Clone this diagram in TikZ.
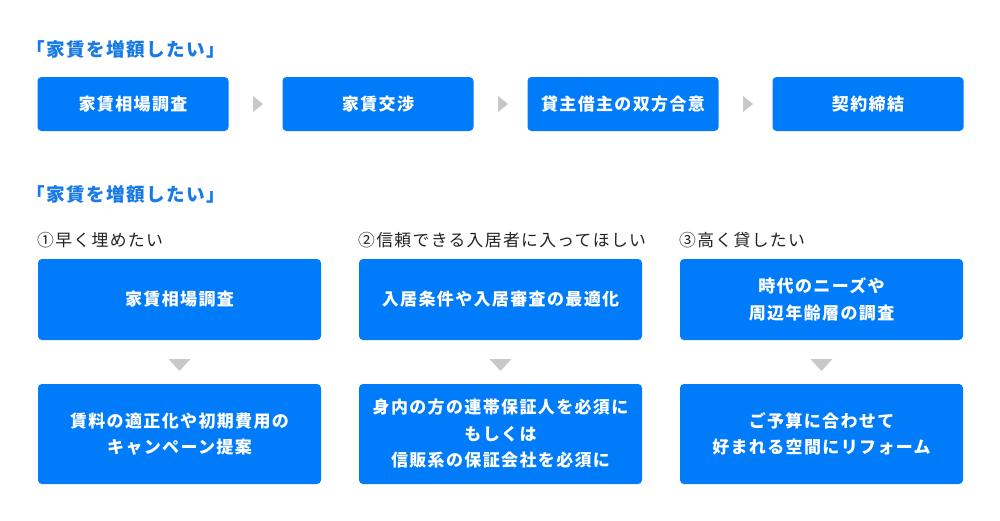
\documentclass[tikz,border=0pt]{standalone}
\usepackage{fontspec}
\newfontfamily\jpfont[LetterSpace=8]{Noto Sans CJK JP}
\definecolor{BoxBlue}{RGB}{0, 123, 250}
\definecolor{HeadBlue}{RGB}{24, 122, 232}
\definecolor{ArrowGray}{RGB}{200, 200, 200}
\definecolor{LabelBlack}{RGB}{34, 34, 34}
\usetikzlibrary{calc}

\begin{document}
\begin{tikzpicture}[
    x=1pt, y=-1pt,
    every node/.style={align=center, inner sep=0pt},
    stepbox/.style={fill=BoxBlue, rounded corners=4pt, text=white, font=\jpfont\bfseries\fontsize{17pt}{26.5pt}\selectfont, minimum height=54pt, minimum width=191pt},
    upbox/.style={stepbox, minimum width=283pt, minimum height=81pt},
    lowbox/.style={stepbox, minimum width=283pt, minimum height=100pt},
    heading/.style={anchor=west, text=HeadBlue, font=\jpfont\bfseries\fontsize{18.6pt}{20pt}\selectfont},
    goal/.style={anchor=west, text=LabelBlack, font=\jpfont\fontsize{16.8pt}{20pt}\selectfont},
    tri/.style={fill=ArrowGray}
]
\fill[white] (0,0) rectangle (1000,520);
\useasboundingbox (0,0) rectangle (1000,520);

% flow of the negotiation
\node[heading] (h1) at (26,49) {「家賃を増額したい」};
\node[stepbox] (s1) at (133,104) {家賃相場調査};
\node[stepbox] (s2) at (378,104) {家賃交渉};
\node[stepbox] (s3) at (623,104) {貸主借主の双方合意};
\node[stepbox] (s4) at (868,104) {契約締結};
\foreach \a/\b in {s1/s2, s2/s3, s3/s4}
  \fill[tri] ($(\a.east)!0.5!(\b.west)$) ++(-2.5,-8) -- ++(10,8) -- ++(-10,8) -- cycle;

% three goals
\node[heading] (h2) at (26,194) {「家賃を増額したい」};
\node[goal] (g1) at (37,240) {①早く埋めたい};
\node[goal] (g2) at (358,240) {②信頼できる入居者に入ってほしい};
\node[goal] (g3) at (679,240) {③高く貸したい};

\node[upbox] (u1) at (179.5,299.5) {家賃相場調査};
\node[upbox] (u2) at (500.5,299.5) {入居条件や入居審査の最適化};
\node[upbox] (u3) at (821.5,299.5) {時代のニーズや\\周辺年齢層の調査};

\node[lowbox] (l1) at (179.5,434) {賃料の適正化や初期費用の\\キャンペーン提案};
\node[lowbox] (l2) at (500.5,434) {身内の方の連帯保証人を必須に\\もしくは\\信販系の保証会社を必須に};
\node[lowbox] (l3) at (821.5,434) {ご予算に合わせて\\好まれる空間にリフォーム};

\foreach \a/\b in {u1/l1, u2/l2, u3/l3}
  \fill[tri] ($(\a.south)!0.5!(\b.north)$) ++(-11,-3) -- ++(22,0) -- ++(-11,12) -- cycle;
\end{tikzpicture}
\end{document}
